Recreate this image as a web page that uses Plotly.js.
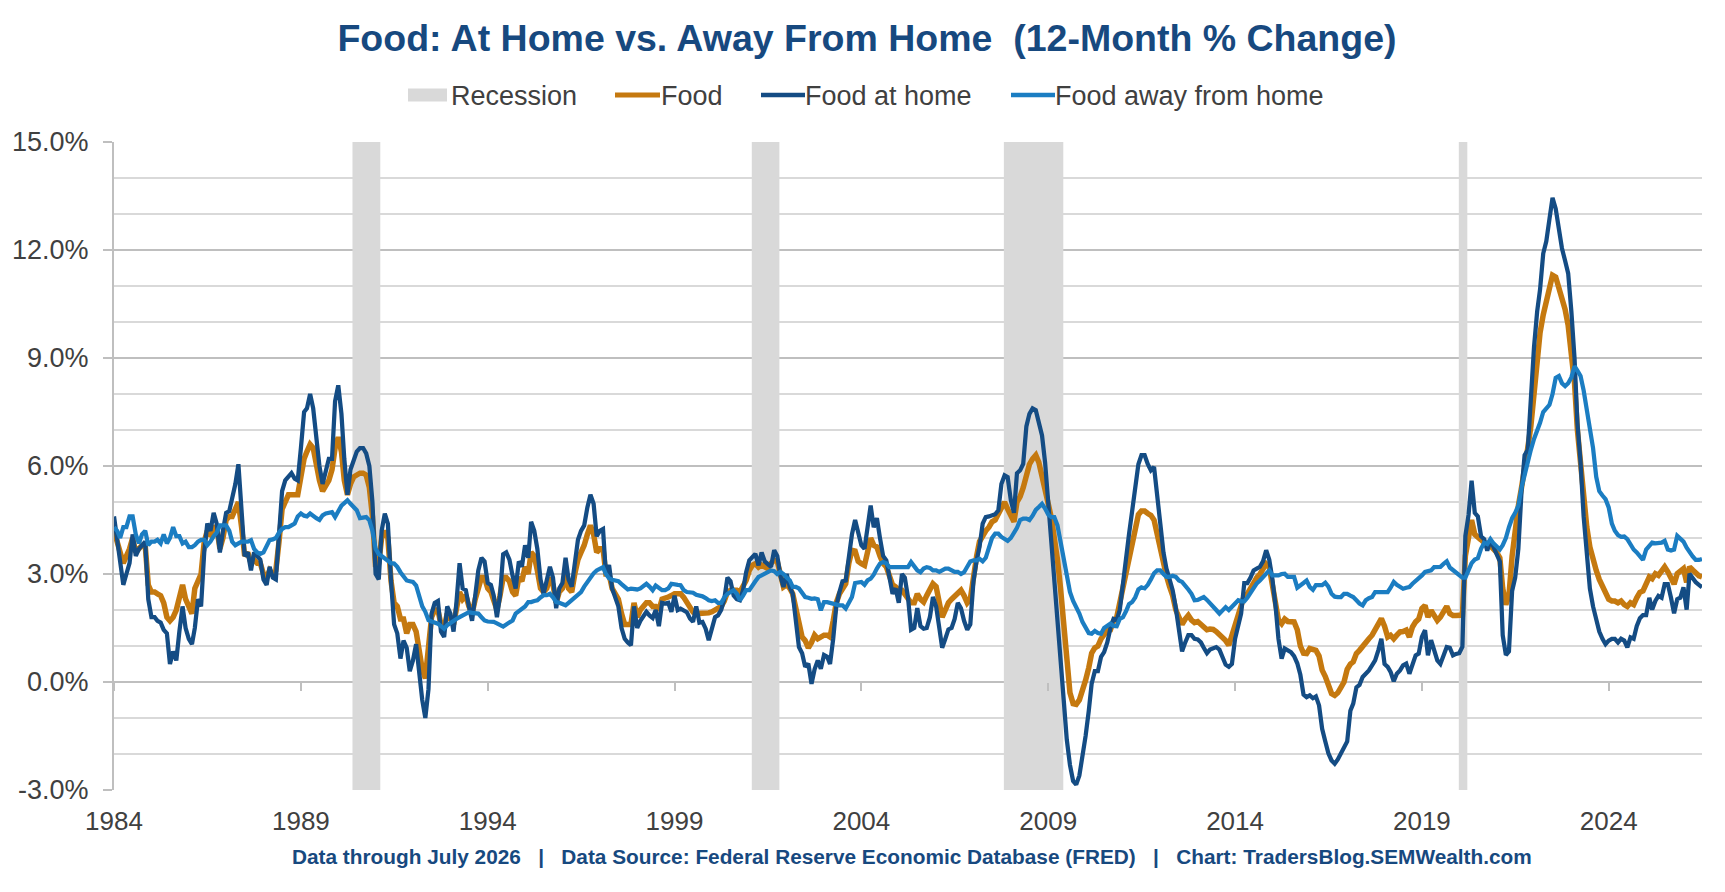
<!DOCTYPE html>
<html>
<head>
<meta charset="utf-8">
<title>Food: At Home vs. Away From Home</title>
<script src="https://cdn.plot.ly/plotly-3.0.1.min.js"></script>
<style>
  body { margin: 0; background: #fff; overflow: hidden; }
</style>
</head>
<body>
<div id="chart"></div>
<script>
// 12-month % change, monthly from Jan 1984 to Jul 2026 (one row per year)
const food = [
  4.2, 3.9, 3.5, 3.3, 3.5, 3.7, 4.0, 3.6, 3.7, 3.8, 3.8, 2.7,            // 1984
  2.5, 2.5, 2.45, 2.4, 2.2, 1.8, 1.7, 1.8, 2.0, 2.4, 2.7, 2.3,           // 1985
  2.1, 1.9, 2.6, 2.8, 3.0, 3.9, 4.2, 4.1, 4.3, 4.3, 3.7, 4.0,            // 1986
  4.5, 4.6, 4.6, 4.8, 5.0, 4.3, 3.5, 3.6, 3.3, 3.4, 3.3, 3.3,            // 1987
  3.0, 2.9, 3.1, 3.0, 3.1, 3.9, 4.8, 5.0, 5.2, 5.2, 5.2, 5.2,            // 1988
  5.7, 6.2, 6.4, 6.6, 6.5, 6.0, 5.6, 5.3, 5.5, 5.6, 5.9, 6.5,            // 1989
  6.8, 6.4, 5.6, 5.2, 5.5, 5.7, 5.75, 5.8, 5.8, 5.75, 5.4, 4.6,          // 1990
  3.2, 3.3, 4.0, 4.2, 4.0, 2.8, 2.2, 2.1, 1.75, 1.75, 1.35, 1.6,         // 1991
  1.6, 1.4, 0.9, 0.35, 0.1, 1.0, 1.8, 2.0, 2.0, 1.6, 1.5, 1.9,           // 1992
  1.8, 1.6, 2.0, 2.5, 2.3, 2.4, 2.1, 1.9, 2.3, 2.6, 2.9, 2.9,            // 1993
  2.6, 2.5, 2.3, 2.0, 2.4, 2.9, 2.9, 2.8, 2.5, 2.4, 2.9, 2.8,            // 1994
  3.2, 3.0, 3.6, 3.5, 3.1, 2.6, 2.5, 2.6, 2.9, 2.7, 2.2, 2.5,            // 1995
  2.6, 3.0, 2.6, 2.5, 3.0, 3.4, 3.6, 3.8, 4.1, 4.35, 4.1, 3.6,           // 1996
  3.7, 3.7, 3.0, 3.0, 2.6, 2.4, 2.3, 1.9, 1.6, 1.6, 1.6, 2.2,            // 1997
  1.8, 2.0, 2.1, 2.2, 2.2, 2.1, 2.1, 2.0, 2.3, 2.35, 2.36, 2.4,          // 1998
  2.45, 2.45, 2.45, 2.35, 2.2, 2.05, 1.94, 1.9, 1.9, 1.9, 1.9, 1.92,     // 1999
  1.95, 1.99, 2.02, 2.1, 2.25, 2.5, 2.55, 2.55, 2.55, 2.5, 2.65, 2.82,   // 2000
  3.1, 3.25, 3.29, 3.19, 3.25, 3.2, 3.15, 3.3, 3.38, 3.35, 2.92, 2.64,   // 2001
  2.7, 2.6, 2.45, 2.0, 1.55, 1.25, 1.15, 0.95, 1.1, 1.3, 1.2, 1.25,      // 2002
  1.3, 1.3, 1.25, 1.7, 2.2, 2.45, 2.6, 2.73, 3.3, 3.66, 3.64, 3.35,      // 2003
  3.29, 3.24, 3.6, 4.0, 3.8, 3.75, 3.5, 3.29, 3.2, 2.9, 2.7, 2.64,       // 2004
  2.55, 2.55, 2.45, 2.3, 2.2, 2.2, 2.45, 2.3, 2.22, 2.4, 2.6, 2.73,      // 2005
  2.65, 2.2, 1.8, 2.0, 2.2, 2.3, 2.38, 2.45, 2.55, 2.4, 2.2, 2.3,        // 2006
  3.0, 3.5, 3.9, 4.1, 4.2, 4.3, 4.45, 4.5, 4.68, 4.9, 5.0, 4.8,          // 2007
  4.6, 4.45, 5.0, 5.15, 5.4, 5.8, 6.05, 6.2, 6.3, 6.1, 5.75, 5.3,        // 2008
  4.95, 4.55, 4.1, 3.4, 2.6, 1.5, 0.5, -0.3, -0.6, -0.62, -0.5, -0.25,   // 2009
  0.05, 0.4, 0.8, 0.95, 1.0, 1.2, 1.35, 1.44, 1.45, 1.7, 1.8, 2.2,       // 2010
  2.75, 3.2, 3.5, 3.9, 4.3, 4.65, 4.75, 4.75, 4.68, 4.63, 4.5, 4.1,      // 2011
  3.7, 3.2, 2.95, 2.65, 2.4, 2.0, 1.75, 1.6, 1.75, 1.85, 1.72, 1.65,     // 2012
  1.68, 1.6, 1.53, 1.45, 1.47, 1.46, 1.4, 1.33, 1.25, 1.15, 1.02, 1.3,   // 2013
  1.5, 1.9, 2.05, 2.4, 2.45, 2.6, 2.78, 2.9, 3.0, 3.12, 3.28, 3.2,       // 2014
  2.7, 2.1, 1.72, 1.62, 1.75, 1.68, 1.67, 1.67, 1.45, 1.0, 0.8, 0.79,    // 2015
  0.93, 0.9, 0.88, 0.72, 0.33, 0.15, -0.12, -0.32, -0.37, -0.3, -0.15, 0.0, // 2016
  0.35, 0.5, 0.56, 0.79, 0.88, 0.97, 1.06, 1.2, 1.3, 1.44, 1.65, 1.76,   // 2017
  1.55, 1.25, 1.3, 1.2, 1.3, 1.39, 1.4, 1.44, 1.25, 1.53, 1.67, 1.75,    // 2018
  2.04, 2.13, 1.8, 1.99, 1.85, 1.71, 1.8, 1.99, 2.1, 1.9, 1.85, 1.85,    // 2019
  1.86, 1.86, 3.5, 4.1, 4.5, 4.1, 4.0, 3.95, 3.87, 3.78, 3.78, 3.7,      // 2020
  3.6, 3.45, 2.6, 2.15, 2.4, 3.5, 4.3, 4.9, 5.4, 5.88, 6.5, 7.1,         // 2021
  8.0, 8.95, 9.7, 10.2, 10.55, 10.85, 11.3, 11.25, 10.95, 10.65, 10.35, 9.9, // 2022
  9.1, 8.3, 7.0, 6.0, 5.1, 4.3, 3.75, 3.35, 3.1, 2.85, 2.65, 2.5,        // 2023
  2.3, 2.25, 2.25, 2.2, 2.25, 2.15, 2.1, 2.2, 2.15, 2.34, 2.49, 2.53,    // 2024
  2.7, 2.92, 2.87, 3.01, 2.96, 3.06, 3.2, 3.06, 2.87, 2.72, 3.01, 3.06,  // 2025
  3.15, 2.77, 3.2, 3.11, 3.01, 2.95, 2.92                                // 2026
];

const foodAtHome = [
  4.6, 4.0, 3.3, 2.7, 3.0, 3.3, 4.1, 3.5, 3.7, 3.8, 3.9, 2.3,            // 1984
  1.8, 1.8, 1.7, 1.65, 1.45, 1.35, 0.5, 0.85, 0.6, 1.4, 2.1, 1.5,        // 1985
  1.2, 1.05, 1.5, 2.3, 2.1, 3.6, 4.4, 4.2, 4.7, 4.4, 3.6, 4.2,           // 1986
  4.7, 4.75, 5.1, 5.5, 6.05, 4.75, 3.5, 3.6, 3.1, 3.6, 3.5, 3.4,         // 1987
  2.85, 2.7, 3.2, 2.9, 2.85, 4.3, 5.3, 5.6, 5.7, 5.8, 5.65, 5.6,         // 1988
  6.5, 7.5, 7.6, 8.0, 7.6, 6.8, 6.0, 5.5, 5.9, 6.2, 6.2, 7.8,            // 1989
  8.24, 7.45, 6.2, 5.2, 5.9, 6.2, 6.4, 6.5, 6.5, 6.35, 6.0, 5.0,         // 1990
  3.0, 2.85, 4.2, 4.68, 4.4, 2.8, 1.6, 1.35, 0.65, 1.15, 0.95, 0.3,      // 1991
  0.6, 1.05, 0.3, -0.5, -1.0, -0.2, 1.9, 2.2, 2.25, 1.4, 1.25, 2.1,      // 1992
  1.9, 1.4, 2.2, 3.3, 2.6, 2.55, 2.1, 1.7, 2.4, 3.1, 3.45, 3.35,         // 1993
  2.75, 2.7, 2.4, 1.8, 2.4, 3.55, 3.6, 3.4, 2.95, 2.6, 3.35, 3.2,        // 1994
  3.8, 3.45, 4.45, 4.2, 3.7, 2.85, 2.45, 2.8, 3.2, 2.9, 2.05, 2.6,       // 1995
  2.75, 3.45, 2.85, 2.65, 3.35, 3.95, 4.2, 4.35, 4.85, 5.2, 4.95, 4.05,  // 1996
  4.2, 4.25, 3.0, 3.25, 2.6, 2.3, 2.1, 1.5, 1.2, 1.1, 1.02, 2.1,         // 1997
  1.5, 1.7, 1.8, 1.95, 1.85, 1.78, 2.0, 1.55, 2.2, 2.18, 2.2, 1.95,      // 1998
  2.4, 2.0, 2.04, 2.0, 1.94, 1.76, 1.67, 2.1, 1.65, 1.67, 1.48, 1.16,    // 1999
  1.48, 1.8, 1.85, 2.0, 2.3, 2.9, 2.8, 2.4, 2.3, 2.27, 2.55, 3.05,       // 2000
  3.38, 3.5, 3.56, 3.24, 3.6, 3.35, 3.29, 3.2, 3.66, 3.5, 2.95, 2.64,    // 2001
  3.0, 2.64, 2.45, 1.8, 0.97, 0.8, 0.42, 0.51, -0.05, 0.35, 0.6, 0.37,   // 2002
  0.75, 0.7, 0.5, 1.2, 2.1, 2.5, 2.8, 2.82, 3.5, 4.1, 4.5, 4.2,          // 2003
  3.8, 3.7, 4.4, 4.9, 4.3, 4.55, 4.0, 3.5, 3.38, 2.85, 2.45, 2.6,        // 2004
  2.2, 3.0, 2.9, 2.35, 1.45, 1.5, 2.05, 1.55, 1.48, 1.5, 1.8, 2.36,      // 2005
  2.1, 1.5, 0.95, 1.2, 1.46, 1.5, 1.75, 2.2, 2.05, 1.7, 1.45, 1.6,       // 2006
  2.8, 3.38, 3.75, 4.4, 4.58, 4.6, 4.63, 4.66, 4.77, 5.5, 5.74, 5.69,    // 2007
  5.05, 4.7, 5.8, 5.88, 6.06, 7.1, 7.45, 7.6, 7.55, 7.25, 6.85, 6.1,     // 2008
  5.0, 4.1, 2.8, 1.7, 0.8, -0.5, -1.6, -2.3, -2.75, -2.85, -2.6, -2.1,   // 2009
  -1.5, -0.8, -0.05, 0.3, 0.3, 0.7, 0.83, 1.1, 1.5, 1.75, 1.72, 2.0,     // 2010
  2.8, 3.4, 4.1, 4.75, 5.5, 6.05, 6.3, 6.3, 6.05, 5.88, 5.97, 5.3,       // 2011
  4.4, 3.6, 3.15, 2.85, 2.55, 2.05, 1.5, 0.85, 1.1, 1.3, 1.3, 1.2,       // 2012
  1.18, 1.1, 0.95, 0.8, 0.9, 0.95, 0.97, 0.9, 0.7, 0.48, 0.42, 0.5,      // 2013
  1.2, 1.6, 1.9, 2.75, 2.75, 2.9, 3.1, 3.15, 3.2, 3.35, 3.66, 3.4,       // 2014
  2.85, 2.1, 1.2, 0.65, 0.93, 0.88, 0.83, 0.72, 0.52, 0.2, -0.35, -0.42, // 2015
  -0.37, -0.45, -0.4, -0.65, -1.3, -1.65, -1.98, -2.18, -2.27, -2.15, -1.96, -1.82, // 2016
  -1.65, -0.8, -0.6, -0.15, -0.08, 0.14, 0.23, 0.32, 0.46, 0.6, 0.88, 1.2, // 2017
  0.5, 0.42, 0.28, 0.02, 0.23, 0.32, 0.46, 0.51, 0.23, 0.51, 0.74, 0.79, // 2018
  1.25, 1.44, 0.74, 1.16, 0.88, 0.6, 0.5, 0.75, 0.97, 0.95, 0.74, 0.78,  // 2019
  0.8, 0.98, 4.06, 4.64, 5.59, 4.7, 4.6, 4.05, 3.97, 3.65, 3.95, 3.75,   // 2020
  3.55, 3.35, 1.3, 0.75, 0.85, 2.53, 2.9, 3.7, 5.3, 6.3, 6.45, 7.9,      // 2021
  9.3, 10.3, 10.9, 11.9, 12.24, 12.86, 13.45, 13.15, 12.5, 12.05, 11.7, 11.35, // 2022
  10.3, 9.0, 7.2, 6.1, 4.6, 3.4, 2.6, 2.1, 1.75, 1.4, 1.2, 1.05,         // 2023
  1.15, 1.2, 1.2, 1.1, 1.2, 1.15, 0.96, 1.24, 1.2, 1.55, 1.77, 1.86,     // 2024
  1.86, 2.34, 2.01, 2.25, 2.39, 2.34, 2.72, 2.72, 2.34, 1.91, 2.3, 2.34, // 2025
  2.63, 2.01, 3.01, 2.87, 2.77, 2.7, 2.63                                // 2026
];

const foodAway = [
  4.3, 4.2, 4.0, 4.3, 4.3, 4.6, 4.6, 4.1, 3.85, 4.1, 4.2, 3.8,           // 1984
  3.9, 3.9, 3.95, 3.85, 4.1, 3.85, 4.0, 4.3, 4.05, 4.05, 3.85, 3.9,      // 1985
  3.75, 3.75, 3.8, 3.9, 3.95, 3.95, 3.8, 3.9, 4.05, 4.15, 4.35, 4.35,    // 1986
  4.35, 4.2, 3.9, 3.8, 3.85, 3.9, 3.9, 3.9, 3.94, 3.7, 3.6, 3.56,        // 1987
  3.6, 3.8, 3.94, 3.96, 4.0, 4.15, 4.25, 4.3, 4.3, 4.35, 4.4, 4.6,       // 1988
  4.68, 4.62, 4.6, 4.68, 4.6, 4.55, 4.5, 4.63, 4.68, 4.7, 4.72, 4.58,    // 1989
  4.77, 4.9, 4.97, 5.05, 4.95, 4.86, 4.77, 4.55, 4.56, 4.58, 4.49, 4.2,  // 1990
  3.7, 3.55, 3.5, 3.43, 3.35, 3.3, 3.29, 3.2, 3.05, 2.92, 2.82, 2.8,     // 1991
  2.78, 2.68, 2.35, 2.1, 1.95, 1.72, 1.68, 1.66, 1.62, 1.55, 1.48, 1.58, // 1992
  1.65, 1.7, 1.75, 1.8, 1.84, 1.88, 1.94, 1.92, 1.9, 1.9, 1.8, 1.71,     // 1993
  1.68, 1.67, 1.67, 1.63, 1.57, 1.54, 1.6, 1.65, 1.71, 1.9, 1.98, 2.04,  // 1994
  2.1, 2.22, 2.22, 2.25, 2.27, 2.35, 2.41, 2.41, 2.45, 2.35, 2.22, 2.2,  // 1995
  2.17, 2.13, 2.2, 2.27, 2.34, 2.42, 2.5, 2.65, 2.78, 2.92, 3.02, 3.1,   // 1996
  3.15, 3.19, 3.0, 2.88, 2.84, 2.82, 2.8, 2.72, 2.64, 2.57, 2.59, 2.57,  // 1997
  2.57, 2.6, 2.68, 2.73, 2.65, 2.55, 2.68, 2.6, 2.55, 2.55, 2.6, 2.73,   // 1998
  2.7, 2.7, 2.69, 2.55, 2.5, 2.5, 2.48, 2.42, 2.41, 2.38, 2.33, 2.27,    // 1999
  2.25, 2.27, 2.2, 2.2, 2.35, 2.45, 2.5, 2.55, 2.45, 2.27, 2.4, 2.55,    // 2000
  2.55, 2.7, 2.8, 2.92, 2.96, 3.0, 3.06, 3.1, 3.08, 3.0, 3.06, 3.0,      // 2001
  2.9, 2.82, 2.64, 2.64, 2.6, 2.5, 2.36, 2.34, 2.31, 2.32, 2.3, 1.99,    // 2002
  2.22, 2.22, 2.2, 2.15, 2.13, 2.13, 2.13, 2.04, 2.2, 2.36, 2.75, 2.78,  // 2003
  2.78, 2.7, 2.82, 2.87, 2.98, 3.15, 3.29, 3.33, 3.3, 3.19, 3.19, 3.19,  // 2004
  3.19, 3.19, 3.19, 3.19, 3.33, 3.2, 3.1, 3.05, 3.15, 3.19, 3.17, 3.1,   // 2005
  3.1, 3.06, 3.1, 3.15, 3.15, 3.1, 3.06, 3.06, 3.0, 3.05, 3.2, 3.35,     // 2006
  3.38, 3.38, 3.42, 3.35, 3.45, 3.7, 4.0, 4.12, 4.12, 4.03, 3.96, 3.92,  // 2007
  4.0, 4.12, 4.28, 4.5, 4.54, 4.54, 4.5, 4.62, 4.78, 4.86, 4.95, 4.82,   // 2008
  4.65, 4.58, 4.58, 4.35, 3.9, 3.35, 3.0, 2.5, 2.25, 2.1, 1.9, 1.67,     // 2009
  1.5, 1.36, 1.34, 1.42, 1.36, 1.34, 1.5, 1.56, 1.62, 1.56, 1.55, 1.75,  // 2010
  1.8, 1.97, 2.16, 2.22, 2.35, 2.57, 2.63, 2.6, 2.7, 2.85, 3.02, 3.1,    // 2011
  3.1, 3.0, 2.92, 2.92, 2.95, 2.92, 2.82, 2.78, 2.69, 2.57, 2.45, 2.27,  // 2012
  2.28, 2.32, 2.36, 2.28, 2.2, 2.1, 2.0, 1.9, 1.98, 2.08, 2.0, 2.1,      // 2013
  2.18, 2.27, 2.24, 2.24, 2.34, 2.48, 2.62, 2.74, 2.82, 2.9, 3.01, 3.1,  // 2014
  2.96, 2.96, 2.96, 3.0, 3.01, 2.92, 2.92, 2.92, 2.62, 2.7, 2.75, 2.82,  // 2015
  2.64, 2.56, 2.69, 2.69, 2.69, 2.76, 2.65, 2.45, 2.37, 2.36, 2.36, 2.45, // 2016
  2.45, 2.4, 2.36, 2.27, 2.18, 2.13, 2.27, 2.33, 2.36, 2.5, 2.5, 2.5,    // 2017
  2.5, 2.5, 2.62, 2.78, 2.7, 2.65, 2.59, 2.62, 2.64, 2.73, 2.8, 2.87,    // 2018
  2.96, 3.06, 3.08, 3.1, 3.19, 3.2, 3.2, 3.28, 3.35, 3.18, 3.11, 3.05,   // 2019
  3.0, 2.9, 2.9, 3.1, 3.3, 3.4, 3.44, 3.7, 3.87, 3.83, 3.97, 3.85,       // 2020
  3.75, 3.68, 3.8, 4.0, 4.3, 4.55, 4.7, 4.9, 5.4, 5.78, 6.15, 6.45,      // 2021
  6.75, 6.95, 7.2, 7.5, 7.6, 7.7, 8.0, 8.45, 8.5, 8.3, 8.22, 8.3,        // 2022
  8.46, 8.77, 8.65, 8.5, 8.1, 7.6, 7.1, 6.5, 5.7, 5.3, 5.18, 5.08,       // 2023
  4.85, 4.4, 4.2, 4.08, 4.03, 4.04, 3.97, 3.8, 3.68, 3.6, 3.5, 3.39,     // 2024
  3.68, 3.78, 3.87, 3.85, 3.85, 3.87, 3.92, 3.68, 3.65, 3.68, 4.06, 3.97, // 2025
  3.9, 3.73, 3.59, 3.49, 3.39, 3.39, 3.42                                // 2026
];

// shaded recession periods, as placed on the chart
const recessionStart = ['1990-05-20', '2001-01-25', '2007-10-25', '2019-12-28'];
const recessionEnd   = ['1991-02-16', '2001-10-22', '2009-05-28', '2020-03-20'];

const yearLabels = ['1984', '1989', '1994', '1999', '2004', '2009', '2014', '2019', '2024'];
const yTicks = [-3, 0, 3, 6, 9, 12, 15];
const yMinor = [-2, -1, 1, 2, 4, 5, 7, 8, 10, 11, 13, 14];

const months = [];
for (let i = 0; i < food.length; i++) {
  const yr = 1984 + Math.floor(i / 12);
  const mo = String(i % 12 + 1).padStart(2, '0');
  months.push(yr + '-' + mo + '-01');
}
const xRange = [months[0], months[months.length - 1]];
const yRange = [yTicks[0], yTicks[yTicks.length - 1]];
const yearTickDates = yearLabels.map(y => y + '-01-01');

const FONT = 'Liberation Sans, Arial, sans-serif';
const TEXT = '#404040';
const NAVY = '#17497F';
const colors = { recession: '#D9D9D9', food: '#C5790F', home: '#144C84', away: '#1B7DC2' };

// page geometry (px) used for the legend row and footer
const W = 1725, H = 892, ML = 114, MR = 23, MT = 142, MB = 102;
const plotW = W - ML - MR, plotH = H - MT - MB;
const px = v => (v - ML) / plotW;
const py = v => (H - MB - v) / plotH;

// recession bands as filled polygons
const recX = [], recY = [];
recessionStart.forEach((s, i) => {
  const e = recessionEnd[i];
  recX.push(s, s, e, e, s, null);
  recY.push(yRange[0], yRange[1], yRange[1], yRange[0], yRange[0], null);
});

const traces = [
  { x: recX, y: recY, type: 'scatter', mode: 'none', fill: 'toself',
    fillcolor: colors.recession, name: 'Recession', showlegend: false, hoverinfo: 'skip' },
  { x: months, y: food, type: 'scatter', mode: 'lines', name: 'Food', xaxis: 'x2',
    line: { color: colors.food, width: 5.5 } },
  { x: months, y: foodAtHome, type: 'scatter', mode: 'lines', name: 'Food at home', xaxis: 'x2',
    line: { color: colors.home, width: 4.25 } },
  { x: months, y: foodAway, type: 'scatter', mode: 'lines', name: 'Food away from home', xaxis: 'x2',
    line: { color: colors.away, width: 4.25 } }
];

// legend row drawn by hand so the swatches match the original
const legendRow = [
  { label: 'Recession', kind: 'box', x0: 408, x1: 447, tx: 449, color: colors.recession },
  { label: 'Food', kind: 'line', x0: 615, x1: 660, tx: 659, color: colors.food, w: 5 },
  { label: 'Food at home', kind: 'line', x0: 761, x1: 805, tx: 803, color: colors.home, w: 4.5 },
  { label: 'Food away from home', kind: 'line', x0: 1011, x1: 1055, tx: 1053, color: colors.away, w: 4.5 }
];
const legendY = 95;

const shapes = legendRow.map(it => it.kind === 'box'
  ? { type: 'rect', xref: 'paper', yref: 'paper', x0: px(it.x0), x1: px(it.x1),
      y0: py(legendY - 6.5), y1: py(legendY + 6.5), fillcolor: it.color, line: { width: 0 } }
  : { type: 'line', xref: 'paper', yref: 'paper', x0: px(it.x0), x1: px(it.x1),
      y0: py(legendY), y1: py(legendY), line: { color: it.color, width: it.w } });

const annotations = legendRow.map(it => ({
  xref: 'paper', yref: 'paper', x: px(it.tx), y: py(legendY + 1),
  xanchor: 'left', yanchor: 'middle', showarrow: false, text: it.label,
  font: { family: FONT, size: 27, color: TEXT }
}));

const sep = '\u00a0\u00a0\u00a0|\u00a0\u00a0\u00a0';
annotations.push({
  xref: 'paper', yref: 'paper', x: px(912), y: py(857), xanchor: 'center', yanchor: 'middle',
  showarrow: false,
  text: '<b>Data through July 2026' + sep + 'Data Source: Federal Reserve Economic Database (FRED)' +
        sep + 'Chart: TradersBlog.SEMWealth.com</b>',
  font: { family: FONT, size: 20.8, color: NAVY }
});

const layout = {
  width: W, height: H,
  margin: { l: ML, r: MR, t: MT, b: MB },
  paper_bgcolor: '#ffffff', plot_bgcolor: '#ffffff',
  showlegend: false,
  title: {
    text: '<b>Food: At Home vs. Away From Home\u00a0 (12-Month % Change)</b>',
    font: { family: FONT, size: 37.5, color: NAVY },
    xref: 'container', x: 0.5026, xanchor: 'center',
    yref: 'container', y: 1 - 38 / H, yanchor: 'middle'
  },
  xaxis: {
    type: 'date', range: xRange, tickmode: 'array', tickvals: yearTickDates, ticktext: yearLabels,
    ticks: '', showgrid: false, showline: false, zeroline: false,
    tickfont: { family: FONT, size: 26, color: TEXT }, ticklabelstandoff: 13
  },
  xaxis2: {
    type: 'date', range: xRange, overlaying: 'x', anchor: 'free',
    position: (0 - yRange[0]) / (yRange[1] - yRange[0]),
    tickmode: 'array', tickvals: yearTickDates, ticks: 'outside', ticklen: 8, tickwidth: 2,
    tickcolor: '#BFBFBF', showticklabels: false, showgrid: false, showline: false, zeroline: false
  },
  yaxis: {
    range: yRange, tickmode: 'array', tickvals: yTicks,
    ticktext: yTicks.map(v => v.toFixed(1) + '%'),
    ticks: 'outside', ticklen: 9, tickwidth: 2, tickcolor: '#BFBFBF',
    showline: true, linecolor: '#BFBFBF', linewidth: 2,
    showgrid: true, gridcolor: '#BFBFBF', gridwidth: 2, zeroline: false,
    minor: { tickmode: 'array', tickvals: yMinor, showgrid: true, gridcolor: '#D9D9D9', gridwidth: 1.5 },
    tickfont: { family: FONT, size: 27, color: TEXT }, ticklabelstandoff: 9
  },
  shapes: shapes,
  annotations: annotations
};

Plotly.newPlot('chart', traces, layout, { displayModeBar: false, responsive: false });
</script>
</body>
</html>
